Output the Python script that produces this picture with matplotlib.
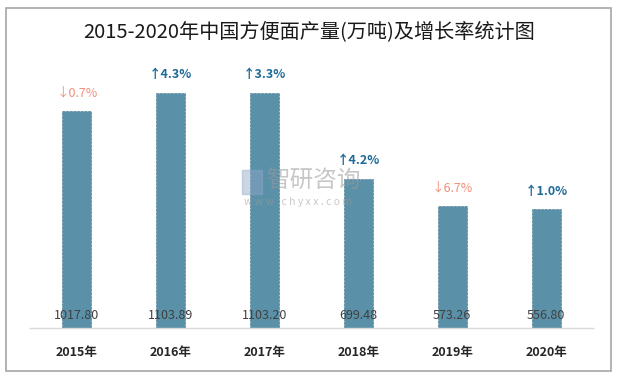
import numpy as np
import matplotlib

matplotlib.use("Agg")
import matplotlib.pyplot as plt
from matplotlib.patches import Rectangle

plt.rcParams["font.family"] = ["Noto Sans CJK SC", "DejaVu Sans"]

years = ["2015年", "2016年", "2017年", "2018年", "2019年", "2020年"]
output = [1017.80, 1103.89, 1103.20, 699.48, 573.26, 556.80]
growth = [-0.7, 4.3, 3.3, 4.2, -6.7, 1.0]

bar_color = "#5b91a8"
up_color = "#1d6a97"
down_color = "#f0907a"

fig = plt.figure(figsize=(6.19, 3.77), dpi=100)
fig.patches.append(Rectangle((6 / 619, 1 - 371 / 377), 605 / 619, 363 / 377,
                             transform=fig.transFigure, fill=False,
                             edgecolor="#a6a6a6", linewidth=1.2))

ax = fig.add_axes([30 / 619, 1 - 328 / 377, 563 / 619, 240 / 377])
x = np.arange(len(years))
ax.bar(x, output, width=0.31, color=bar_color, edgecolor="#4f8299",
       linestyle="--", linewidth=0.5)
ax.set_xlim(-0.5, len(years) - 0.5)
ax.set_ylim(0, 240 / 0.2132)

for side in ["top", "right", "left"]:
    ax.spines[side].set_visible(False)
ax.spines["bottom"].set_color("#d9d9d9")
ax.spines["bottom"].set_linewidth(1.0)
ax.set_yticks([])
ax.set_xticks(x)
ax.set_xticklabels(years, fontsize=9, fontweight="bold", color="#262626")
ax.tick_params(axis="x", length=0, pad=13)

for xi, v, g in zip(x, output, growth):
    ax.text(xi, 60, f"{v:.2f}", ha="center", va="center", fontsize=9,
            color="#404040")
    if g >= 0:
        ax.text(xi, v + 85, f"↑{g:.1f}%", ha="center", va="center",
                fontsize=9, fontweight="bold", color=up_color)
    else:
        ax.text(xi, v + 85, f"↓{abs(g):.1f}%", ha="center", va="center",
                fontsize=9, color=down_color)

fig.text(0.5, 1 - 32 / 377, "2015-2020年中国方便面产量(万吨)及增长率统计图",
         ha="center", va="center", fontsize=14.5, color="#1a1a1a")

# watermark
fig.text(313 / 619, 1 - 181 / 377, "智研咨询", ha="center", va="center",
         fontsize=17, color="#9a9a9a", alpha=0.55)
fig.text(298 / 619, 1 - 202 / 377, "w w w . c h y x x . c o m", ha="center",
         va="center", fontsize=7.5, color="#9a9a9a", alpha=0.55)
fig.patches.append(Rectangle((242 / 619, 1 - 194 / 377), 20 / 619, 24 / 377,
                             transform=fig.transFigure, color="#8fa7c8",
                             alpha=0.45))

fig.savefig("out.png", dpi=100)
